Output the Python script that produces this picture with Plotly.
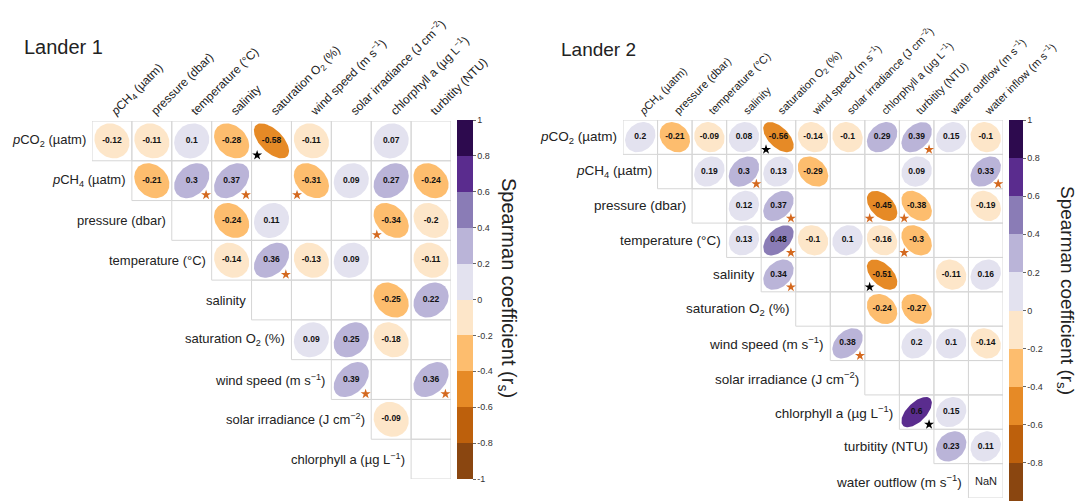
import numpy as np
import plotly.graph_objects as go

W, H = 1080, 501
FONT = "Liberation Sans, Arial, sans-serif"

# ---------------- data ----------------
L1_cols = ["<i>p</i>CH<sub>4</sub> (µatm)", "pressure (dbar)", "temperature (°C)", "salinity",
           "saturation O<sub>2</sub> (%)", "wind speed (m s<sup>−1</sup>)",
           "solar irradiance (J cm<sup>−2</sup>)", "chlorphyll a (µg L<sup>−1</sup>)", "turbitity (NTU)"]
L1_rows = ["<i>p</i>CO<sub>2</sub> (µatm)", "<i>p</i>CH<sub>4</sub> (µatm)", "pressure (dbar)",
           "temperature (°C)", "salinity", "saturation O<sub>2</sub> (%)",
           "wind speed (m s<sup>−1</sup>)", "solar irradiance (J cm<sup>−2</sup>)",
           "chlorphyll a (µg L<sup>−1</sup>)"]
# each row starts at the diagonal column (row i -> column i)
L1_vals = [
    [-0.12, -0.11, 0.10, -0.28, -0.58, -0.11, None, 0.07, None],
    [-0.21, 0.30, 0.37, None, -0.31, 0.09, 0.27, -0.24],
    [None, -0.24, 0.11, None, None, -0.34, -0.20],
    [-0.14, 0.36, -0.13, 0.09, None, -0.11],
    [None, None, None, -0.25, 0.22],
    [0.09, 0.25, -0.18, None],
    [0.39, None, 0.36],
    [-0.09, None],
    [None],
]
# significance marks: 0 none, 1 orange star, 2 black star
L1_sig = [
    [0, 0, 0, 0, 2, 0, 0, 0, 0],
    [0, 1, 1, 0, 1, 0, 0, 0],
    [0, 0, 0, 0, 0, 1, 0],
    [0, 1, 0, 0, 0, 0],
    [0, 0, 0, 0, 0],
    [0, 0, 0, 0],
    [1, 0, 1],
    [0, 0],
    [0],
]

L2_cols = ["<i>p</i>CH<sub>4</sub> (µatm)", "pressure (dbar)", "temperature (°C)", "salinity",
           "saturation O<sub>2</sub> (%)", "wind speed (m s<sup>−1</sup>)",
           "solar irradiance (J cm<sup>−2</sup>)", "chlorphyll a (µg L<sup>−1</sup>)", "turbitity (NTU)",
           "water outflow (m s<sup>−1</sup>)", "water inflow (m s<sup>−1</sup>)"]
L2_rows = ["<i>p</i>CO<sub>2</sub> (µatm)", "<i>p</i>CH<sub>4</sub> (µatm)", "pressure (dbar)",
           "temperature (°C)", "salinity", "saturation O<sub>2</sub> (%)",
           "wind speed (m s<sup>−1</sup>)", "solar irradiance (J cm<sup>−2</sup>)",
           "chlorphyll a (µg L<sup>−1</sup>)", "turbitity (NTU)", "water outflow (m s<sup>−1</sup>)"]
L2_vals = [
    [0.20, -0.21, -0.09, 0.08, -0.56, -0.14, -0.10, 0.29, 0.39, 0.15, -0.10],
    [None, 0.19, 0.30, 0.13, -0.29, None, None, 0.09, None, 0.33],
    [None, 0.12, 0.37, None, None, -0.45, -0.38, None, -0.19],
    [0.13, 0.48, -0.10, 0.10, -0.16, -0.30, None, None],
    [0.34, None, None, -0.51, None, -0.11, 0.16],
    [None, None, -0.24, -0.27, None, None],
    [0.38, None, 0.20, 0.10, -0.14],
    [None, None, None, None],
    [0.60, 0.15, None],
    [0.23, 0.11],
    [float("nan")],
]
L2_sig = [
    [0, 0, 0, 0, 2, 0, 0, 0, 1, 0, 0],
    [0, 0, 1, 0, 0, 0, 0, 0, 0, 1],
    [0, 0, 1, 0, 0, 1, 1, 0, 0],
    [0, 1, 0, 0, 0, 1, 0, 0],
    [1, 0, 0, 2, 0, 0, 0],
    [0, 0, 0, 0, 0, 0],
    [1, 0, 0, 0, 0],
    [0, 0, 0, 0],
    [2, 0, 0],
    [0, 0],
    [0],
]

CB_TITLE = "Spearman coefficient (r<sub>s</sub>)"
TICKV = [-1, -0.8, -0.6, -0.4, -0.2, 0, 0.2, 0.4, 0.6, 0.8, 1]

# PuOr-like 10 class colours from -1 to 1
BIN_COLORS = ["#8a4610", "#bd600c", "#e68a26", "#fdbd6e", "#fde6c9",
              "#e3e2ef", "#bab4d8", "#8a7cb6", "#5a2c8e", "#2d0a4e"]
STAR_COLORS = {1: "#d4691f", 2: "#000000"}


def discrete_scale(colors):
    n = len(colors)
    sc = []
    for k, c in enumerate(colors):
        sc.append([k / n, c])
        sc.append([(k + 1) / n, c])
    return sc


def bin_color(v):
    k = int(np.floor((v + 1) / 0.2))
    k = min(max(k, 0), len(BIN_COLORS) - 1)
    return BIN_COLORS[k]


fig = go.Figure()
shapes = []
annotations = []

panels = [
    dict(name="Lander 1", cols=L1_cols, rows=L1_rows, vals=L1_vals, sig=L1_sig,
         xs="x", ys="y", px=(92, 451), py=(121, 479), colfs=12, rowfs=13, valfs=8.5,
         title_xy=(22, 47), title_fs=20,
         cb=dict(x=457, y=120, len=359, thick=16, tx=508, ty=288, titlefs=20)),
    dict(name="Lander 2", cols=L2_cols, rows=L2_rows, vals=L2_vals, sig=L2_sig,
         xs="x2", ys="y2", px=(623, 1003), py=(120, 498), colfs=11, rowfs=13.5, valfs=8.5,
         title_xy=(559, 49), title_fs=19,
         cb=dict(x=1009, y=120, len=381, thick=14, tx=1066, ty=290, titlefs=19)),
]

t = np.linspace(0, 2 * np.pi, 72)
S = 0.44

for p in panels:
    xs, ys = p["xs"], p["ys"]
    n = len(p["cols"])
    all_vals = []
    # grid cells
    for i in range(len(p["rows"])):
        for k, v in enumerate(p["vals"][i]):
            j = i + k
            shapes.append(dict(type="rect", xref=xs, yref=ys, x0=j - 0.5, x1=j + 0.5,
                               y0=i - 0.5, y1=i + 0.5, line=dict(color="#d6d6d6", width=1),
                               layer="below"))
    # ellipses, values, stars
    tx, ty, tt = [], [], []
    for i in range(len(p["rows"])):
        for k, v in enumerate(p["vals"][i]):
            j = i + k
            if v is None:
                continue
            if np.isnan(v):
                annotations.append(dict(x=j, y=i, xref=xs, yref=ys, text="NaN", showarrow=False,
                                        font=dict(size=11, color="#222", family=FONT)))
                continue
            all_vals.append(v)
            d = np.arccos(v)
            u = np.cos(t + d / 2)
            w = np.cos(t - d / 2)
            fig.add_trace(go.Scatter(x=j + S * u, y=i - S * w, xaxis=xs, yaxis=ys, mode="lines",
                                     fill="toself", fillcolor=bin_color(v), line=dict(width=0),
                                     hoverinfo="skip", showlegend=False))
            tx.append(j)
            ty.append(i)
            tt.append(f"<b>{v:g}</b>")
            s = p["sig"][i][k]
            if s:
                fig.add_trace(go.Scatter(x=[j + (0.36 if v > 0 else -0.36)], y=[i + 0.36],
                                         xaxis=xs, yaxis=ys, mode="markers",
                                         marker=dict(symbol="star", size=7.5, color=STAR_COLORS[s],
                                                     line=dict(width=0)),
                                         hoverinfo="skip", showlegend=False))
    fig.add_trace(go.Scatter(x=tx, y=ty, xaxis=xs, yaxis=ys, mode="text", text=tt,
                             textfont=dict(size=p["valfs"], color="#111", family=FONT),
                             hoverinfo="skip", showlegend=False))
    # colourbar carrier
    cb = p["cb"]
    cbar = dict(x=cb["x"] / W, xanchor="left", y=1 - cb["y"] / H, yanchor="top",
                len=cb["len"], lenmode="pixels", thickness=cb["thick"],
                thicknessmode="pixels", outlinewidth=0, xpad=0, ypad=0,
                ticks="outside", ticklen=3, tickcolor="#666",
                tickvals=TICKV, ticktext=[f"{v:g}" for v in TICKV],
                tickfont=dict(size=9, color="#333", family=FONT))
    fig.add_trace(go.Scatter(
        x=tx, y=ty, xaxis=xs, yaxis=ys, mode="markers", hoverinfo="skip", showlegend=False,
        marker=dict(size=0.1, opacity=0, color=all_vals, colorscale=discrete_scale(BIN_COLORS),
                    cmin=-1, cmax=1, showscale=True, colorbar=cbar)))
    annotations.append(dict(x=cb["tx"] / W, y=1 - cb["ty"] / H, xref="paper", yref="paper",
                            text=CB_TITLE, textangle=90, showarrow=False,
                            xanchor="center", yanchor="middle",
                            font=dict(size=cb["titlefs"], color="#222", family=FONT)))
    # row labels
    for i, lab in enumerate(p["rows"]):
        annotations.append(dict(x=i - 0.5, y=i, xref=xs, yref=ys, text=lab, showarrow=False,
                                xanchor="right", xshift=-4,
                                font=dict(size=p["rowfs"], color="#222", family=FONT)))
    # panel title
    annotations.append(dict(x=p["title_xy"][0] / W, y=1 - p["title_xy"][1] / H, xref="paper",
                            yref="paper", text=p["name"], showarrow=False, xanchor="left",
                            yanchor="middle", font=dict(size=p["title_fs"], color="#222", family=FONT)))

    ax = "xaxis" if xs == "x" else "xaxis2"
    ay = "yaxis" if ys == "y" else "yaxis2"
    fig.layout[ax] = dict(domain=[p["px"][0] / W, p["px"][1] / W], range=[-0.5, n - 0.5],
                          anchor=ys, side="top", tickmode="array", tickvals=list(range(n)),
                          ticktext=p["cols"], tickangle=-45, showgrid=False, zeroline=False,
                          showline=False, ticks="", fixedrange=True, automargin=False,
                          tickfont=dict(size=p["colfs"], color="#222", family=FONT))
    fig.layout[ay] = dict(domain=[1 - p["py"][1] / H, 1 - p["py"][0] / H],
                          range=[len(p["rows"]) - 0.5, -0.5], anchor=xs, showgrid=False,
                          zeroline=False, showline=False, showticklabels=False, ticks="",
                          fixedrange=True, automargin=False)

fig.update_layout(width=W, height=H, margin=dict(l=0, r=0, t=0, b=0, autoexpand=False),
                  paper_bgcolor="white", plot_bgcolor="white", shapes=shapes,
                  annotations=annotations, showlegend=False, font=dict(family=FONT))
fig.write_html("out.html")
